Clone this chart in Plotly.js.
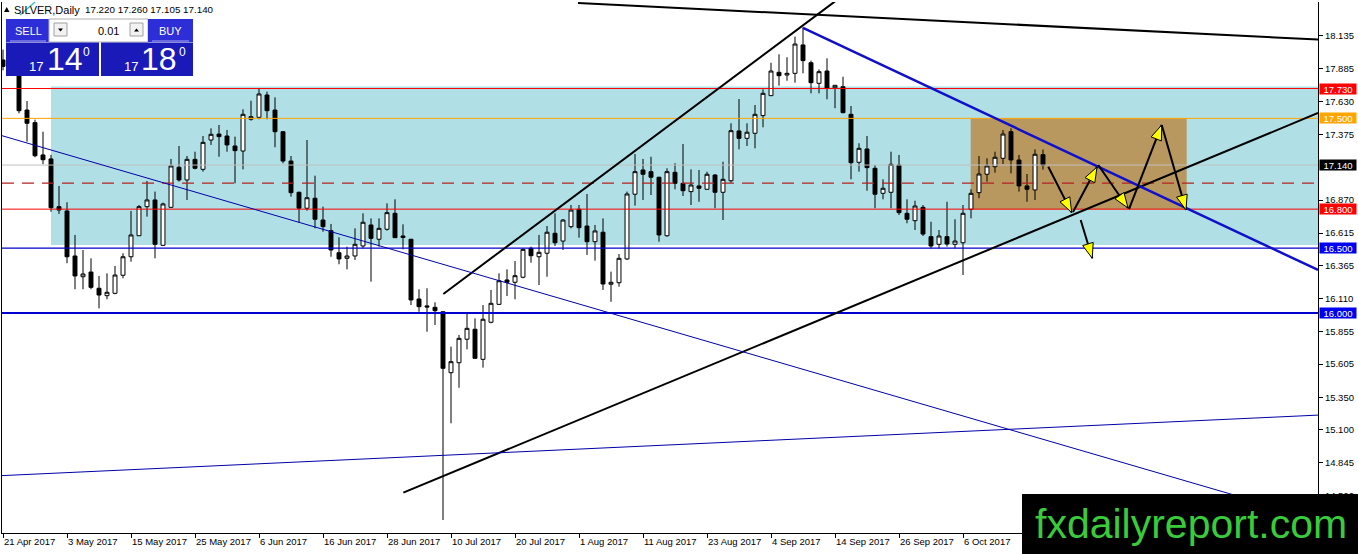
<!DOCTYPE html>
<html><head><meta charset="utf-8">
<script src="https://cdn.plot.ly/plotly-3.0.1.min.js"></script>
<style>html,body{margin:0;padding:0;background:#fff;overflow:hidden}#chart{width:1358px;height:554px}</style>
</head><body><div id="chart"></div>
<script>
// ---------- data ----------
const symbolName = 'SILVER,Daily';
const quoteText = '17.220 17.260 17.105 17.140';
const open = [17.950,17.900,17.860,17.564,17.467,17.218,17.187,16.819,16.786,16.439,16.279,16.315,16.190,16.133,16.151,16.290,16.433,16.595,16.819,16.871,16.521,16.814,17.123,17.025,17.184,17.107,17.333,17.379,17.364,17.287,17.248,17.493,17.508,17.680,17.564,17.397,17.171,16.930,16.807,16.884,16.716,16.634,16.464,16.421,16.439,16.516,16.678,16.568,16.645,16.768,16.593,16.568,16.107,16.054,16.043,16.009,15.539,15.616,15.797,15.874,15.642,15.928,16.066,16.254,16.236,16.275,16.498,16.433,16.460,16.614,16.554,16.665,16.799,16.670,16.549,16.622,16.221,16.233,16.416,16.915,17.102,17.089,17.046,16.595,17.084,16.999,16.935,16.979,16.953,17.063,16.930,17.019,17.403,17.346,17.385,17.521,17.675,17.855,17.834,17.847,18.066,17.929,17.770,17.865,17.736,17.744,17.531,17.161,17.264,17.115,16.922,16.930,17.140,16.768,16.711,16.814,16.588,16.529,16.588,16.529,16.541,16.799,16.927,17.069,17.127,17.192,17.397,17.179,16.979,16.948,17.220];
const high = [18.030,17.960,17.900,17.634,17.490,17.397,17.218,16.979,16.853,16.601,16.485,16.421,16.285,16.305,16.362,16.460,16.786,16.832,17.017,16.935,16.850,17.187,17.287,17.210,17.243,17.364,17.423,17.449,17.410,17.359,17.570,17.636,17.732,17.706,17.662,17.400,17.210,16.935,17.333,17.058,16.819,16.686,16.583,16.511,16.652,16.768,16.729,16.729,16.845,16.876,16.683,16.570,16.182,16.190,16.082,16.010,15.740,15.830,16.005,15.958,16.061,16.177,16.305,16.336,16.400,16.498,16.511,16.601,16.670,16.768,16.724,16.832,16.832,16.917,16.678,16.729,16.318,16.454,16.935,17.225,17.187,17.204,17.050,17.115,17.154,17.302,17.107,17.102,17.089,17.071,17.166,17.462,17.649,17.462,17.603,17.724,17.929,17.994,17.971,18.130,18.202,17.945,17.878,17.963,17.757,17.821,17.595,17.308,17.364,17.140,17.030,17.243,17.218,16.876,16.865,16.832,16.703,16.639,16.857,16.722,16.832,16.953,17.210,17.192,17.243,17.410,17.423,17.218,17.071,17.261,17.260];
const low = [17.870,17.845,17.539,17.320,17.200,17.146,16.780,16.763,16.383,16.182,16.182,16.182,16.035,16.105,16.144,16.267,16.395,16.593,16.742,16.421,16.516,16.812,17.012,16.871,17.107,17.089,17.295,17.204,17.243,16.999,17.107,17.482,17.493,17.493,17.277,17.154,16.896,16.696,16.788,16.652,16.626,16.433,16.375,16.336,16.408,16.498,16.241,16.511,16.634,16.578,16.490,16.061,16.009,15.855,15.907,14.403,15.149,15.423,15.719,15.648,15.578,15.920,16.061,16.130,16.105,16.267,16.387,16.215,16.279,16.516,16.485,16.652,16.580,16.447,16.403,16.177,16.086,16.202,16.408,16.827,16.871,16.909,16.549,16.588,16.953,16.901,16.832,16.857,16.951,16.807,16.716,17.004,17.261,17.287,17.269,17.431,17.673,17.752,17.790,17.775,17.847,17.693,17.693,17.647,17.578,17.539,17.030,17.089,16.942,16.807,16.876,16.807,16.755,16.691,16.639,16.593,16.498,16.498,16.511,16.498,16.292,16.729,16.884,17.012,17.081,17.148,17.076,16.935,16.857,16.871,17.105];
const close = [17.900,17.870,17.559,17.462,17.212,17.181,16.811,16.793,16.433,16.285,16.300,16.197,16.138,16.159,16.292,16.433,16.601,16.819,16.871,16.529,16.840,17.133,17.025,17.184,17.115,17.315,17.377,17.359,17.295,17.251,17.531,17.513,17.688,17.559,17.397,17.171,16.927,16.807,16.888,16.722,16.665,16.485,16.416,16.439,16.529,16.699,16.575,16.652,16.773,16.580,16.582,16.100,16.048,16.046,16.017,15.573,15.624,15.804,15.881,15.650,15.951,16.074,16.248,16.236,16.287,16.490,16.441,16.467,16.622,16.541,16.716,16.793,16.657,16.549,16.632,16.223,16.236,16.421,16.917,17.089,17.069,17.046,16.601,17.089,16.999,16.942,16.986,16.961,17.069,16.930,17.030,17.405,17.346,17.393,17.531,17.693,17.865,17.829,17.847,18.073,17.945,17.775,17.860,17.732,17.755,17.544,17.158,17.269,17.120,16.915,16.961,17.146,16.773,16.722,16.824,16.608,16.516,16.593,16.531,16.554,16.768,16.922,17.071,17.133,17.200,17.379,17.179,16.979,16.953,17.223,17.140];
const tickBars = [0,8,16,24,32,40,48,56,64,72,80,88,96,104,112,120];
const tickLabels = ['21 Apr 2017','3 May 2017','15 May 2017','25 May 2017','6 Jun 2017','16 Jun 2017','28 Jun 2017','10 Jul 2017','20 Jul 2017','1 Aug 2017','11 Aug 2017','23 Aug 2017','4 Sep 2017','14 Sep 2017','26 Sep 2017','6 Oct 2017'];
const priceTicks = [18.135,17.885,17.630,17.375,16.870,16.615,16.365,16.110,15.855,15.605,15.350,15.100,14.845,14.590];
const levelPrices = [17.730,17.500,17.000,16.800,16.500,16.000];
const bidPrice = 17.140;
const blueZone = [6.0, 16.524, 17.745];        // start bar, bottom, top
const brownZone = [120.96, 147.96, 16.800, 17.500];
// trendlines: [bar0, price0, bar1, price1]
const trendLines = [
  [71.875,18.389,164.375,18.108],
  [55.04,16.146,104.0,18.402],
  [50.04,14.614,164.375,17.541],
  [100.0,18.197,164.375,16.331],
  [-1,17.382,164.375,14.407],
  [-1,14.743,164.375,15.212]
];
const arrows = [
  [130.66,17.127,133.59,16.773],
  [133.75,16.778,136.75,17.125],
  [136.91,17.140,140.625,16.809],
  [140.75,16.801,144.84,17.449],
  [144.84,17.449,147.875,16.793],
  [134.71,16.716,136.16,16.421]
];
const panelPrices = {sellBig:'14', buyBig:'18', handle:'17', lot:'0.01'};
const brand = 'fxdailyreport.com';

// ---------- geometry ----------
const W = 1358, H = 554, ML = 2, MR = 40, MT = 2, MB = 21;
const PW = W - ML - MR, PH = H - MT - MB;
const XR = [-0.125, 164.375];
const YR = [14.3031, 18.3971];
const FONT = 'Liberation Sans, Arial, sans-serif';
const px = x => (x - ML) / PW;
const py = y => 1 - (y - MT) / PH;
const toPx = (i, p) => [ML + (i - XR[0]) / (XR[1] - XR[0]) * PW, MT + (YR[1] - p) / (YR[1] - YR[0]) * PH];
const fromPx = (x, y) => [XR[0] + (x - ML) / PW * (XR[1] - XR[0]), YR[1] - (y - MT) / PH * (YR[1] - YR[0])];

const bars = open.map((_, i) => i);

const shapes = [];
// background zones
shapes.push({type:'rect', xref:'x', yref:'y', x0:blueZone[0], x1:200, y0:blueZone[1], y1:blueZone[2], fillcolor:'#B0E0E6', line:{width:0}, layer:'below'});
shapes.push({type:'rect', xref:'x', yref:'y', x0:brownZone[0], x1:brownZone[1], y0:brownZone[2], y1:brownZone[3], fillcolor:'#B8985F', line:{width:0}, layer:'below'});
// horizontal levels
const levelStyles = [
  {color:'#FF0000', width:1},
  {color:'#FFA500', width:1},
  {color:'#B22222', width:1.2, dash:'12px,8px'},
  {color:'#FF0000', width:1},
  {color:'#0000CC', width:1.2},
  {color:'#0000CC', width:2}
];
levelPrices.forEach((p, k) => {
  shapes.push({type:'line', xref:'paper', yref:'y', x0:0, x1:1, y0:p, y1:p, line:levelStyles[k], layer:'above'});
});
shapes.push({type:'line', xref:'paper', yref:'y', x0:0, x1:1, y0:bidPrice, y1:bidPrice, line:{color:'#C0C0C0', width:1}, layer:'above'});
// trendlines
const trendStyles = [
  {color:'#000000', width:2},
  {color:'#000000', width:2},
  {color:'#000000', width:2},
  {color:'#1010CC', width:2.5},
  {color:'#0000A8', width:1},
  {color:'#0000A8', width:1}
];
trendLines.forEach((t, k) => {
  shapes.push({type:'line', xref:'x', yref:'y', x0:t[0], y0:t[1], x1:t[2], y1:t[3], line:trendStyles[k], layer:'above'});
});
// arrows
arrows.forEach(a => {
  shapes.push({type:'line', xref:'x', yref:'y', x0:a[0], y0:a[1], x1:a[2], y1:a[3], line:{color:'#000', width:2}, layer:'above'});
  const s = toPx(a[0], a[1]), e = toPx(a[2], a[3]);
  const dx = e[0] - s[0], dy = e[1] - s[1], len = Math.hypot(dx, dy);
  const ux = dx / len, uy = dy / len, nx = -uy, ny = ux;
  const L = 15, Hw = 5.5;
  const bx = e[0] - ux * L, by = e[1] - uy * L;
  const p1 = fromPx(e[0], e[1]);
  const p2 = fromPx(bx + nx * Hw, by + ny * Hw);
  const p3 = fromPx(bx - nx * Hw, by - ny * Hw);
  shapes.push({type:'path', xref:'x', yref:'y', path:`M ${p1[0]} ${p1[1]} L ${p2[0]} ${p2[1]} L ${p3[0]} ${p3[1]} Z`, fillcolor:'#FFFF00', line:{color:'#000', width:1}, layer:'above'});
});
// one-click trading panel
function prect(x0, y0, x1, y1, fill, lc) {
  return {type:'rect', xref:'paper', yref:'paper', x0:px(x0), x1:px(x1), y0:py(y1), y1:py(y0), fillcolor:fill, line:lc ? {color:lc, width:1} : {width:0}, layer:'above'};
}
function ppath(pts, fill) {
  return {type:'path', xref:'paper', yref:'paper', path:'M ' + pts.map(p => px(p[0]) + ' ' + py(p[1])).join(' L ') + ' Z', fillcolor:fill, line:{width:0}, layer:'above'};
}
function pline(x0, y0, x1, y1, color, w) {
  return {type:'line', xref:'paper', yref:'paper', x0:px(x0), y0:py(y0), x1:px(x1), y1:py(y1), line:{color:color, width:w}, layer:'above'};
}
shapes.push(prect(6, 19, 49, 42, '#2E2ED8'));
shapes.push(prect(49, 19, 148, 42, '#FFFFFF', '#B0B0B0'));
shapes.push(prect(54, 23, 67, 36, '#F2F2F2', '#A0A0A0'));
shapes.push(prect(130, 23, 143, 36, '#F2F2F2', '#A0A0A0'));
shapes.push(ppath([[58, 28.5], [63, 28.5], [60.5, 31.5]], '#000'));
shapes.push(ppath([[134, 31.5], [139, 31.5], [136.5, 28.5]], '#000'));
shapes.push(prect(148, 19, 193, 42, '#2E2ED8'));
shapes.push(pline(10, 41, 46, 41, '#A8A8F0', 1));
shapes.push(pline(152, 41, 189, 41, '#A8A8F0', 1));
shapes.push(prect(6, 42.5, 99, 76, '#1A1AB8'));
shapes.push(prect(101, 42.5, 193, 76, '#1A1AB8'));
// header marker
shapes.push(ppath([[4, 12], [9.5, 12], [6.75, 7]], '#000'));
shapes.push(pline(20, 15, 35, 2, '#3CC8B4', 1.5));
// brand box
shapes.push(prect(1022, 494, 1360, 556, '#000000'));

const annotations = [];
function ptext(x, y, text, size, color, anchor) {
  annotations.push({xref:'paper', yref:'paper', x:px(x), y:py(y), text:text, showarrow:false, xanchor:anchor || 'center', yanchor:'middle', font:{family:FONT, size:size, color:color}});
}
ptext(11.5, 9.5, symbolName, 11, '#000', 'left');
ptext(82.5, 9.5, quoteText, 9.8, '#000', 'left');
ptext(28, 31, 'SELL', 11, '#FFFFFF');
ptext(170, 31, 'BUY', 11, '#FFFFFF');
ptext(108, 31, panelPrices.lot, 11, '#000');
ptext(36, 67, panelPrices.handle, 13, '#FFFFFF');
ptext(65, 59, panelPrices.sellBig, 32, '#FFFFFF');
ptext(86.5, 52, '0', 12, '#FFFFFF');
ptext(131, 67, panelPrices.handle, 13, '#FFFFFF');
ptext(158.5, 59, panelPrices.buyBig, 32, '#FFFFFF');
ptext(182.5, 52, '0', 12, '#FFFFFF');
ptext(1191, 524, brand, 41, '#3ACB3A');

// right-axis price labels
const labelColors = ['#FF0000', '#FFA500', null, '#FF0000', '#0000F0', '#0000F0'];
function priceLabel(p, bg) {
  annotations.push({xref:'paper', yref:'y', x:1, xshift:1, y:p, xanchor:'left', yanchor:'middle', text:p.toFixed(3), showarrow:false,
    bgcolor:bg, width:36, height:10, borderpad:0, font:{family:FONT, size:9.5, color:'#FFFFFF'}});
}
levelPrices.forEach((p, k) => { if (labelColors[k]) priceLabel(p, labelColors[k]); });
priceLabel(bidPrice, '#000000');

const trace = {
  type:'candlestick', x:bars, open:open, high:high, low:low, close:close,
  increasing:{line:{color:'#000', width:1}, fillcolor:'#FFFFFF'},
  decreasing:{line:{color:'#000', width:1}, fillcolor:'#000000'},
  whiskerwidth:0, hoverinfo:'none', showlegend:false
};

const layout = {
  width:W, height:H, margin:{l:ML, r:MR, t:MT, b:MB},
  paper_bgcolor:'#FFFFFF', plot_bgcolor:'#FFFFFF', showlegend:false,
  boxgap:0.3, boxgroupgap:0.3,
  xaxis:{type:'linear', range:XR, tickmode:'array', tickvals:tickBars, ticktext:tickLabels,
    ticks:'outside', ticklen:4, tickcolor:'#000', showline:true, linecolor:'#000', linewidth:1,
    showgrid:false, zeroline:false, rangeslider:{visible:false}, fixedrange:true,
    ticklabelposition:'outside right', tickfont:{family:FONT, size:9.5, color:'#000'}},
  yaxis:{range:YR, side:'right', tickmode:'array', tickvals:priceTicks, ticktext:priceTicks.map(v => v.toFixed(3)),
    ticks:'outside', ticklen:4, tickcolor:'#000', showline:true, mirror:true, linecolor:'#000', linewidth:1,
    showgrid:false, zeroline:false, fixedrange:true, tickfont:{family:FONT, size:9.5, color:'#000'}},
  shapes:shapes, annotations:annotations
};

Plotly.newPlot('chart', [trace], layout, {displayModeBar:false, staticPlot:true});
</script>
</body></html>
